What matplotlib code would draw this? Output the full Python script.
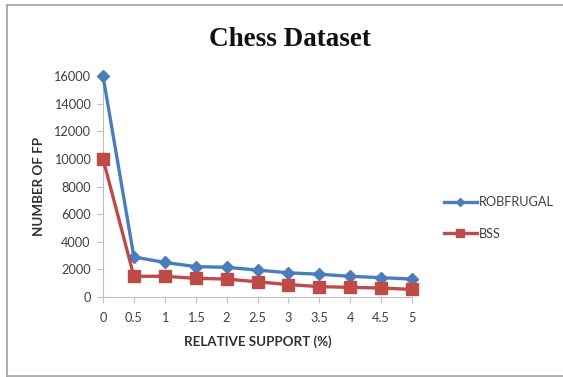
import matplotlib
matplotlib.use("Agg")
import matplotlib.pyplot as plt
from matplotlib.patches import Rectangle

# Relative support thresholds (%) and frequent-pattern counts
support_labels = ["0", "0.5", "1", "1.5", "2", "2.5", "3", "3.5", "4", "4.5", "5"]
robfrugal = [16000, 2900, 2500, 2200, 2150, 1950, 1750, 1650, 1500, 1400, 1300]
bss = [10000, 1500, 1500, 1350, 1300, 1100, 900, 750, 700, 650, 550]
y_ticks = [0, 2000, 4000, 6000, 8000, 10000, 12000, 14000, 16000]

W, H = 563, 377
fig = plt.figure(figsize=(W / 100, H / 100), dpi=100)
fig.patch.set_facecolor("white")

# outer chart frame (left, top and bottom edges)
frame_col = "#a0a0a0"
fig.add_artist(plt.Line2D([7 / W, 7 / W], [1 - 376 / H, 1 - 5 / H],
                          transform=fig.transFigure, color=frame_col, linewidth=1.2))
fig.add_artist(plt.Line2D([7 / W, 1], [1 - 5 / H, 1 - 5 / H],
                          transform=fig.transFigure, color=frame_col, linewidth=1.2))
fig.add_artist(plt.Line2D([7 / W, 1], [1 - 376 / H, 1 - 376 / H],
                          transform=fig.transFigure, color=frame_col, linewidth=1.2))

ax = fig.add_axes([103 / W, 1 - 297 / H, (412 - 103) / W, (297 - 76) / H])
x = list(range(len(support_labels)))

ax.plot(x, robfrugal, color="#4a7ebb", linewidth=2.4, marker="D",
        markersize=6.5, markerfacecolor="#4a7ebb", markeredgecolor="#4a7ebb",
        label="ROBFRUGAL", clip_on=False, zorder=3)
ax.plot(x, bss, color="#be4b48", linewidth=2.4, marker="s",
        markersize=8, markerfacecolor="#be4b48", markeredgecolor="#be4b48",
        label="BSS", clip_on=False, zorder=3)

ax.set_xlim(0, len(x) - 1)
ax.set_ylim(0, 16000)
ax.set_xticks(x)
ax.set_xticklabels(support_labels)
ax.set_yticks(y_ticks)
ax.set_yticklabels([str(v) for v in y_ticks])

for lab in ax.get_xticklabels() + ax.get_yticklabels():
    lab.set_fontfamily("Lato")
    lab.set_fontsize(9.2)
    lab.set_color("#404040")

for side in ("top", "right"):
    ax.spines[side].set_visible(False)
ax.spines["left"].set_color("#bfbfbf")
ax.spines["bottom"].set_color("#bfbfbf")
ax.tick_params(axis="both", direction="out", length=4, color="#bfbfbf", width=0.8)
ax.tick_params(axis="x", pad=7)
ax.tick_params(axis="y", pad=5)

ax.set_xlabel("RELATIVE SUPPORT (%)", fontfamily="Lato", fontweight="bold",
              fontsize=9.6, color="#303030", labelpad=8)
ax.set_ylabel("NUMBER OF FP", fontfamily="Lato", fontweight="bold",
              fontsize=9.6, color="#303030", labelpad=6)

fig.text(290 / W, 1 - 40 / H, "Chess Dataset", ha="center", va="center",
         fontfamily="Liberation Serif", fontweight="bold", fontsize=19.5,
         color="#111111")

leg = fig.legend(loc="center left", bbox_to_anchor=(432 / W, 1 - 218 / H),
                 frameon=False, handlelength=2.6, handletextpad=0.15,
                 labelspacing=1.5, prop=dict(family="Lato", size=9.2),
                 markerscale=0.7)
for t in leg.get_texts():
    t.set_color("#404040")

fig.savefig("out.png", dpi=100)
